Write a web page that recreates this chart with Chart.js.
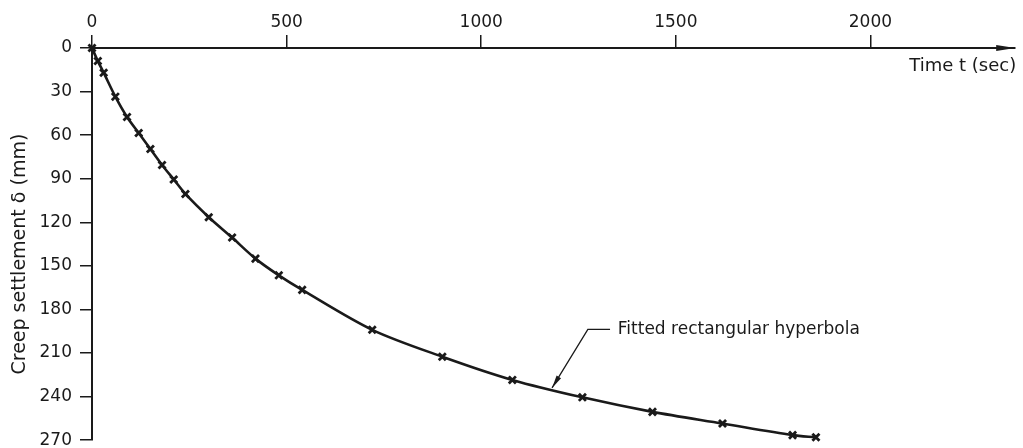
<!DOCTYPE html>
<html>
<head>
<meta charset="utf-8">
<script src="https://cdn.jsdelivr.net/npm/chart.js@4.4.1/dist/chart.umd.min.js"></script>
<style>
  html, body { margin: 0; padding: 0; background: #fff; }
  canvas { display: block; }
</style>
</head>
<body>
<canvas id="c" width="1023" height="448"></canvas>
<script>
// ---- Data ----
const timeSec = [0, 15, 30, 60, 90, 120, 150, 180, 210, 240, 300, 360, 420, 480, 540, 720, 900, 1080, 1260, 1440, 1620, 1800, 1860];
const settlementMm = [0, 9, 17, 33.5, 47.5, 58.5, 69.5, 80.5, 90.5, 100.5, 116.5, 130.5, 145, 156.5, 166.5, 194, 212.5, 228.5, 240.5, 250.5, 258.5, 266.5, 268];
const xTickValues = [0, 500, 1000, 1500, 2000];
const yTickValues = [0, 30, 60, 90, 120, 150, 180, 210, 240, 270];
const xAxisTitle = 'Time t (sec)';
const yAxisTitle = 'Creep settlement \u03B4 (mm)';
const curveLabel = 'Fitted rectangular hyperbola';
// annotation anchor points in data units (t, delta)
const labelTip = [1182, 234];
const labelElbow = [1274, 193.7];
const labelEnd = [1331, 193.7];
const labelText = [1351, 193.7];

const INK = '#1a1a1a';
Chart.defaults.font.family = "'DejaVu Sans', sans-serif";
Chart.defaults.font.size = 17;
Chart.defaults.color = INK;

const points = timeSec.map((t, i) => ({ x: t, y: settlementMm[i] }));

const decor = {
  id: 'decor',
  afterDraw(chart) {
    const ctx = chart.ctx;
    const ca = chart.chartArea;
    const xs = chart.scales.x, ys = chart.scales.y;
    ctx.save();
    // arrowhead on the time axis
    ctx.fillStyle = INK;
    ctx.beginPath();
    ctx.moveTo(ca.right, ca.top);
    ctx.lineTo(ca.right - 19, ca.top - 3);
    ctx.lineTo(ca.right - 19, ca.top + 3);
    ctx.closePath();
    ctx.fill();

    // x axis title
    ctx.font = "18px 'DejaVu Sans', sans-serif";
    ctx.textAlign = 'right';
    ctx.textBaseline = 'middle';
    ctx.fillText(xAxisTitle, ca.right + 1, ca.top + 18);

    // y axis title
    ctx.save();
    ctx.translate(20, (ca.top + ca.bottom) / 2 + 10);
    ctx.rotate(-Math.PI / 2);
    ctx.textAlign = 'center';
    ctx.textBaseline = 'middle';
    ctx.font = "19px 'DejaVu Sans', sans-serif";
    ctx.fillText(yAxisTitle, 0, 0);
    ctx.restore();

    // annotation leader
    const tx = xs.getPixelForValue(labelTip[0]), ty = ys.getPixelForValue(labelTip[1]);
    const ex = xs.getPixelForValue(labelElbow[0]), ey = ys.getPixelForValue(labelElbow[1]);
    const hx = xs.getPixelForValue(labelEnd[0]), hy = ys.getPixelForValue(labelEnd[1]);
    ctx.strokeStyle = INK;
    ctx.lineWidth = 1.3;
    ctx.beginPath();
    ctx.moveTo(tx, ty);
    ctx.lineTo(ex, ey);
    ctx.lineTo(hx, hy);
    ctx.stroke();
    // small arrowhead at the curve
    const ang = Math.atan2(ey - ty, ex - tx);
    const L = 13, W = 2.6;
    ctx.beginPath();
    ctx.moveTo(tx, ty);
    ctx.lineTo(tx + L * Math.cos(ang) - W * Math.sin(ang), ty + L * Math.sin(ang) + W * Math.cos(ang));
    ctx.lineTo(tx + L * Math.cos(ang) + W * Math.sin(ang), ty + L * Math.sin(ang) - W * Math.cos(ang));
    ctx.closePath();
    ctx.fill();
    ctx.font = "17px 'DejaVu Sans', sans-serif";
    ctx.textAlign = 'left';
    ctx.textBaseline = 'middle';
    ctx.fillText(curveLabel, xs.getPixelForValue(labelText[0]), ys.getPixelForValue(labelText[1]));
    ctx.restore();
  }
};

new Chart(document.getElementById('c'), {
  type: 'line',
  data: {
    datasets: [{
      data: points,
      borderColor: INK,
      borderWidth: 2.6,
      tension: 0.3,
      pointStyle: 'crossRot',
      pointRadius: 5,
      pointBorderWidth: 2.8,
      pointBorderColor: INK,
      pointBackgroundColor: INK,
      clip: false,
      fill: false
    }]
  },
  options: {
    responsive: false,
    animation: false,
    events: [],
    layout: { padding: { top: 0, left: 0, right: 6, bottom: 7 } },
    plugins: { legend: { display: false }, tooltip: { enabled: false } },
    scales: {
      x: {
        type: 'linear',
        position: 'top',
        min: 0,
        max: 2372,
        afterBuildTicks: s => { s.ticks = xTickValues.map(v => ({ value: v })); },
        afterFit: s => { s.height = 48; s.paddingLeft = 0; s.paddingRight = 0; },
        ticks: { padding: 2, maxRotation: 0, color: INK, font: { size: 17 }, callback: v => String(v) },
        grid: { drawOnChartArea: false, drawTicks: true, tickLength: 13, color: INK, lineWidth: 1.5 },
        border: { display: true, color: INK, width: 2 }
      },
      y: {
        type: 'linear',
        reverse: true,
        min: 0,
        max: 270,
        afterBuildTicks: s => { s.ticks = yTickValues.map(v => ({ value: v })); },
        afterFit: s => { s.width = 92; s.paddingTop = 0; s.paddingBottom = 0; },
        ticks: { padding: 8, color: INK, font: { size: 17 }, callback: v => String(v) },
        grid: { drawOnChartArea: false, drawTicks: true, tickLength: 12, color: INK, lineWidth: 1.5 },
        border: { display: true, color: INK, width: 2 }
      }
    }
  },
  plugins: [decor]
});
</script>
</body>
</html>
